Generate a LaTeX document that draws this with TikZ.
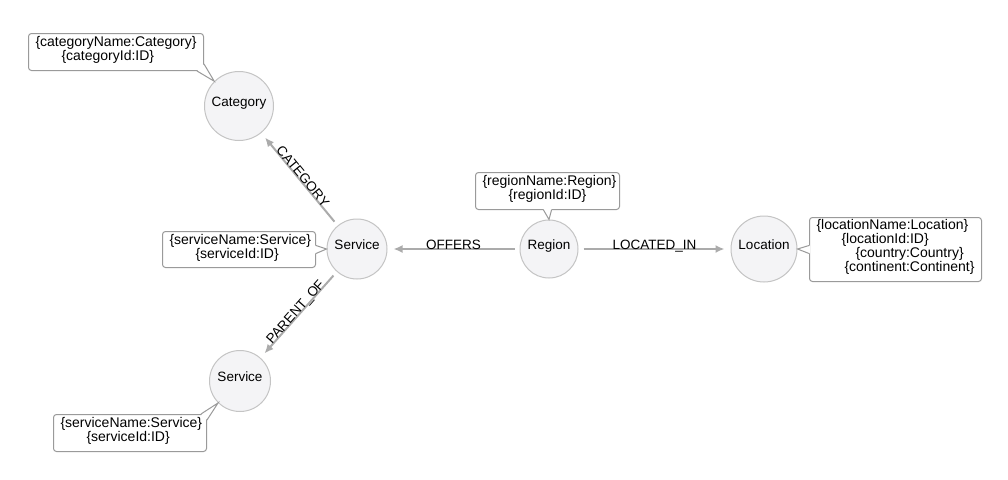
\documentclass[tikz,border=0pt]{standalone}
\usepackage{fontspec}
\setmainfont{Liberation Sans}
\usepackage{tikz}
\usetikzlibrary{arrows.meta}
\definecolor{nodefill}{HTML}{F4F4F6}
\definecolor{nodeline}{HTML}{C4C4C4}
\definecolor{boxline}{HTML}{9A9A9A}
\definecolor{relline}{HTML}{ABABAB}
\tikzset{
	entity/.style={circle, draw=nodeline, fill=nodefill, line width=1pt, inner sep=1pt,
		text height=10pt, text depth=10pt, font=\fontsize{13.5}{16}\selectfont},
	propbox/.style={draw=boxline, fill=white, rounded corners=3pt, line width=1pt,
		anchor=north west, align=left, inner xsep=7pt, inner ysep=0pt, text depth=21pt,
		font=\fontsize{14}{14.3}\selectfont},
	calloutline/.style={draw=boxline, line width=1pt},
	relation/.style={draw=relline, line width=2pt, -{Latex[length=9pt,width=8pt]},
		shorten <=5pt, shorten >=6pt},
	rellabel/.style={anchor=base, inner sep=0pt, text=black, font=\fontsize{13.5}{16}\selectfont},
}
\begin{document}
\begin{tikzpicture}[x=1pt, y=-1pt]
	\fill[white] (0,0) rectangle (1008,479);
	\useasboundingbox (0,0) rectangle (1008,479);
	\node[entity, minimum size=69pt] (cat) at (239,106) {Category};
	\node[entity, minimum size=60pt] (svc) at (357,249) {Service};
	\node[entity, minimum size=58pt] (reg) at (549,249) {Region};
	\node[entity, minimum size=66pt] (loc) at (764,249) {Location};
	\node[entity, minimum size=61pt] (svc2) at (240,381) {Service};
	\draw[relation] (reg) -- (svc) node[rellabel, midway] {OFFERS};
	\draw[relation] (reg) -- (loc) node[rellabel, midway] {LOCATED\_IN};
	\draw[relation] (svc) -- (cat) node[rellabel, midway, sloped] {CATEGORY};
	\draw[relation] (svc) -- (svc2) node[rellabel, midway, sloped] {PARENT\_OF};
	\node[propbox, text width=161pt, minimum height=37pt] (catbox) at (28,33)
		{\{categoryName:Category\}\\\hspace*{26pt}\{categoryId:ID\}};
	\node[propbox, text width=139pt, minimum height=36pt] (svcbox) at (162,231)
		{\{serviceName:Service\}\\\hspace*{26pt}\{serviceId:ID\}};
	\node[propbox, text width=130pt, minimum height=37pt] (regbox) at (475,172)
		{\{regionName:Region\}\\\hspace*{26pt}\{regionId:ID\}};
	\node[propbox, text width=158pt, minimum height=64pt, text depth=51pt] (locbox) at (809,217)
		{\{locationName:Location\}\\\hspace*{25pt}\{locationId:ID\}\\\hspace*{39pt}\{country:Country\}\\\hspace*{28pt}\{continent:Continent\}};
	\node[propbox, text width=139pt, minimum height=37pt] (svc2box) at (53,414)
		{\{serviceName:Service\}\\\hspace*{26pt}\{serviceId:ID\}};
	\fill[white] ([xshift=-7pt,yshift=1pt]catbox.south east) -- (cat.135) -- ([xshift=-1pt,yshift=7pt]catbox.south east) -- cycle;
	\draw[calloutline] ([xshift=-7pt]catbox.south east) -- (cat.135) -- ([yshift=7pt]catbox.south east);
	\fill[white] ([xshift=-1pt,yshift=4pt]svcbox.east) -- (svc.west) -- ([xshift=-1pt,yshift=-4pt]svcbox.east) -- cycle;
	\draw[calloutline] ([yshift=4pt]svcbox.east) -- (svc.west) -- ([yshift=-4pt]svcbox.east);
	\fill[white] ([xshift=-4pt,yshift=1pt]regbox.south) -- (reg.north) -- ([xshift=4pt,yshift=1pt]regbox.south) -- cycle;
	\draw[calloutline] ([xshift=-4pt]regbox.south) -- (reg.north) -- ([xshift=4pt]regbox.south);
	\fill[white] ([xshift=1pt,yshift=4pt]locbox.west) -- (loc.east) -- ([xshift=1pt,yshift=-4pt]locbox.west) -- cycle;
	\draw[calloutline] ([yshift=4pt]locbox.west) -- (loc.east) -- ([yshift=-4pt]locbox.west);
	\fill[white] ([xshift=-6pt,yshift=-1pt]svc2box.north east) -- (svc2.225) -- ([xshift=-1pt,yshift=-6pt]svc2box.north east) -- cycle;
	\draw[calloutline] ([xshift=-6pt]svc2box.north east) -- (svc2.225) -- ([yshift=-6pt]svc2box.north east);
\end{tikzpicture}
\end{document}
